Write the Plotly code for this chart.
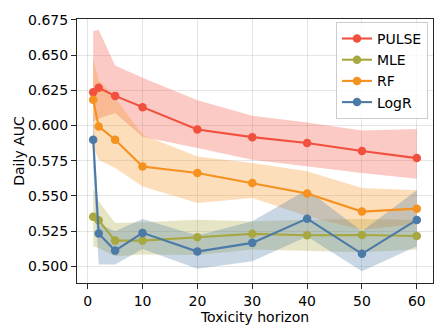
import plotly.graph_objects as go

horizons = [1, 2, 5, 10, 20, 30, 40, 50, 60]

pulse_auc = [0.6237, 0.6268, 0.6211, 0.6131, 0.5972, 0.5918, 0.5876, 0.5819, 0.5769]
pulse_hi = [0.667, 0.668, 0.6426, 0.6339, 0.618, 0.607, 0.6022, 0.5965, 0.5975]
pulse_lo = [0.603, 0.605, 0.609, 0.592, 0.584, 0.5757, 0.571, 0.5663, 0.5623]

mle_auc = [0.5353, 0.5327, 0.5183, 0.5183, 0.5207, 0.5231, 0.5221, 0.5223, 0.5216]
mle_hi = [0.5557, 0.5462, 0.5308, 0.5313, 0.5332, 0.532, 0.5332, 0.5337, 0.533]
mle_lo = [0.5143, 0.513, 0.5072, 0.5084, 0.508, 0.512, 0.5108, 0.510, 0.512]

rf_auc = [0.6183, 0.5994, 0.5899, 0.571, 0.5663, 0.5592, 0.5517, 0.5389, 0.541]
rf_hi = [0.648, 0.632, 0.62, 0.5935, 0.578, 0.5734, 0.5675, 0.5556, 0.554]
rf_lo = [0.585, 0.5757, 0.5698, 0.5568, 0.545, 0.5486, 0.5356, 0.526, 0.530]

logr_auc = [0.5899, 0.5233, 0.5112, 0.5238, 0.5105, 0.5167, 0.5339, 0.5089, 0.533]
logr_hi = [0.61, 0.53, 0.525, 0.5337, 0.522, 0.532, 0.5545, 0.525, 0.554]
logr_lo = [0.57, 0.5013, 0.5013, 0.5124, 0.4983, 0.5036, 0.5213, 0.4966, 0.5143]

series = [
    ("PULSE", pulse_auc, pulse_hi, pulse_lo, "#F2503F", "rgba(242,80,63,0.3)"),
    ("MLE", mle_auc, mle_hi, mle_lo, "#A8A840", "rgba(168,168,64,0.3)"),
    ("RF", rf_auc, rf_hi, rf_lo, "#F5911E", "rgba(245,145,30,0.3)"),
    ("LogR", logr_auc, logr_hi, logr_lo, "#4C7AA6", "rgba(76,122,166,0.3)"),
]

fig = go.Figure()

# shaded bands first, lines on top
for name, auc, hi, lo, color, fill in series:
    fig.add_trace(go.Scatter(
        x=horizons + horizons[::-1],
        y=hi + lo[::-1],
        fill="toself",
        fillcolor=fill,
        line=dict(width=0),
        mode="lines",
        hoverinfo="skip",
        showlegend=False,
    ))

for name, auc, hi, lo, color, fill in series:
    fig.add_trace(go.Scatter(
        x=horizons,
        y=auc,
        mode="lines+markers",
        name=name,
        line=dict(color=color, width=2.1),
        marker=dict(color=color, size=8.5),
    ))

axis_style = dict(
    showline=True,
    linecolor="#262626",
    linewidth=1.1,
    mirror=True,
    ticks="outside",
    ticklen=5,
    tickcolor="#262626",
    showgrid=True,
    gridcolor="rgba(0,0,0,0.1)",
    zeroline=False,
    automargin=False,
    tickfont=dict(size=14, color="black"),
)

fig.update_xaxes(
    range=[-1.95, 62.95],
    tickvals=[0, 10, 20, 30, 40, 50, 60],
    title=dict(text="Toxicity horizon", font=dict(size=14, color="black"), standoff=0),
    **axis_style,
)
fig.update_yaxes(
    range=[0.4882, 0.6757],
    tickvals=[0.5, 0.525, 0.55, 0.575, 0.6, 0.625, 0.65, 0.675],
    tickformat=".3f",
    title=dict(text="Daily AUC", font=dict(size=14, color="black"), standoff=0),
    **axis_style,
)

# the page body adds an 8px offset, so the margins are shifted to compensate
fig.update_layout(
    width=448,
    height=336,
    margin=dict(l=69, r=23, t=11, b=61),
    plot_bgcolor="white",
    paper_bgcolor="white",
    font=dict(family="DejaVu Sans", size=14, color="black"),
    legend=dict(
        x=0.7275,
        y=0.989,
        xanchor="left",
        yanchor="top",
        bgcolor="rgba(255,255,255,0.8)",
        bordercolor="#cccccc",
        borderwidth=1,
        font=dict(size=14),
        tracegroupgap=0,
    ),
)

fig.write_html("out.html")
